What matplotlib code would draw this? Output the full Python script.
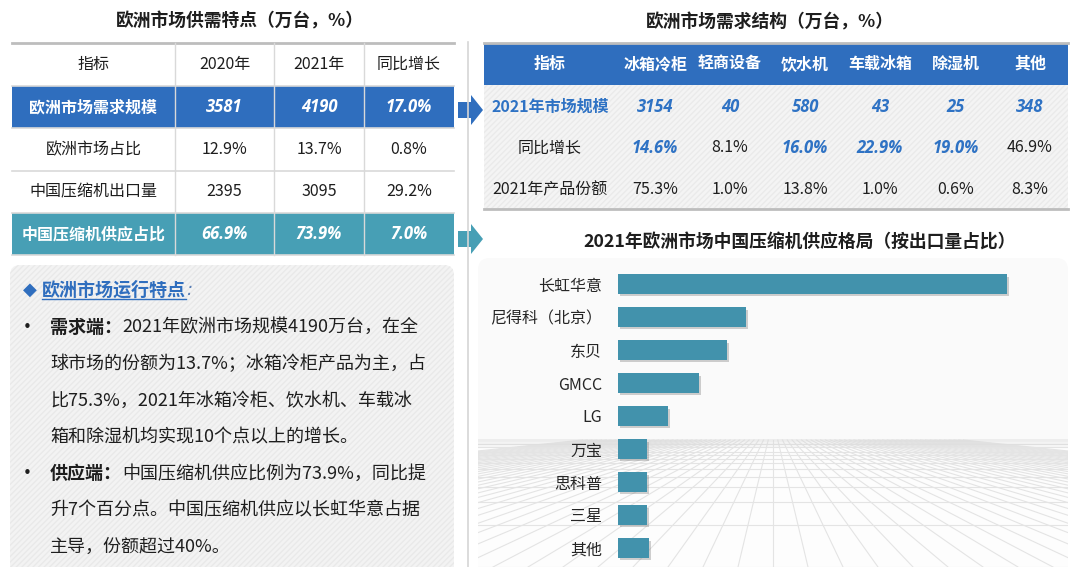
import matplotlib
matplotlib.use('Agg')
import matplotlib.pyplot as plt
from matplotlib.patches import Rectangle, FancyBboxPatch, Polygon
import matplotlib.patheffects as pe
import numpy as np

plt.rcParams['font.family'] = ['Noto Sans CJK SC', 'DejaVu Sans']

# ---------------- data ----------------
left_title = '欧洲市场供需特点（万台，%）'
left_header = ['指标', '2020年', '2021年', '同比增长']
left_metrics = ['欧洲市场需求规模', '欧洲市场占比', '中国压缩机出口量', '中国压缩机供应占比']
left_2020 = ['3581', '12.9%', '2395', '66.9%']
left_2021 = ['4190', '13.7%', '3095', '73.9%']
left_yoy = ['17.0%', '0.8%', '29.2%', '7.0%']

right_title = '欧洲市场需求结构（万台，%）'
right_header = ['指标', '冰箱冷柜', '轻商设备', '饮水机', '车载冰箱', '除湿机', '其他']
right_metrics = ['2021年市场规模', '同比增长', '2021年产品份额']
market_2021 = [3154, 40, 580, 43, 25, 348]
growth_yoy = [14.6, 8.1, 16.0, 22.9, 19.0, 46.9]
share_2021 = [75.3, 1.0, 13.8, 1.0, 0.6, 8.3]
growth_highlight = [True, False, True, True, True, False]

bar_title = '2021年欧洲市场中国压缩机供应格局（按出口量占比）'
suppliers = ['长虹华意', '尼得科（北京）', '东贝', 'GMCC', 'LG', '万宝', '思科普', '三星', '其他']
supply_share = [44.5, 14.6, 12.5, 9.3, 5.7, 3.3, 3.3, 3.3, 3.5]

note_title = '欧洲市场运行特点'
note_lines = [
    ('需求端：', '2021年欧洲市场规模4190万台，在全'),
    ('', '球市场的份额为13.7%；冰箱冷柜产品为主，占'),
    ('', '比75.3%，2021年冰箱冷柜、饮水机、车载冰'),
    ('', '箱和除湿机均实现10个点以上的增长。'),
    ('供应端：', '中国压缩机供应比例为73.9%，同比提'),
    ('', '升7个百分点。中国压缩机供应以长虹华意占据'),
    ('', '主导，份额超过40%。'),
]

# ---------------- style ----------------
BLUE = '#2F6EBE'
TEAL = '#479FB5'
BAR = '#4292AC'
BLUE_TXT = '#2E72C4'
TXT = '#1E1E1E'
LINE = '#D9D9D9'
NUM_IT = ['Open Sans', 'DejaVu Sans']
FS = 11.5
FS_NUM = 12

fig = plt.figure(figsize=(10.8, 5.67), dpi=100)
bg = fig.add_axes([0, 0, 1, 1])
bg.set_xlim(0, 1080)
bg.set_ylim(567, 0)
bg.axis('off')

# ---------------- titles ----------------
bg.text(240, 21, left_title, ha='center', va='center', fontsize=12.8, fontweight='bold', color=TXT)
bg.text(770, 22, right_title, ha='center', va='center', fontsize=12.8, fontweight='bold', color=TXT)
bg.text(800, 243, bar_title, ha='center', va='center', fontsize=12.8, fontweight='bold', color=TXT)

# separator
bg.plot([468, 468], [42, 567], color='#D6D6D6', lw=1.2)

# ---------------- left table ----------------
col_edges = [12, 175, 274, 364, 454]
row_edges = [43, 86, 128, 171, 213, 255]
col_c = [(col_edges[i] + col_edges[i + 1]) / 2 for i in range(4)]
row_c = [(row_edges[i] + row_edges[i + 1]) / 2 for i in range(5)]
fills = {1: BLUE, 4: TEAL}
for r, colr in fills.items():
    bg.add_patch(Rectangle((col_edges[0], row_edges[r]), col_edges[-1] - col_edges[0],
                           row_edges[r + 1] - row_edges[r], facecolor=colr, edgecolor='none'))
for y in row_edges[1:]:
    bg.plot([col_edges[0], col_edges[-1]], [y, y], color=LINE, lw=1.2)
bg.plot([col_edges[0], col_edges[-1]], [43, 43], color='#BDBDBD', lw=2)
for x in col_edges[1:-1]:
    bg.plot([x, x], [43, 255], color=LINE, lw=1)

for j, h in enumerate(left_header):
    bg.text(col_c[j], row_c[0], h, ha='center', va='center', fontsize=FS, color=TXT)
for i, m in enumerate(left_metrics):
    r = i + 1
    vals = [left_2020[i], left_2021[i], left_yoy[i]]
    if r in fills:
        bg.text(col_c[0], row_c[r], m, ha='center', va='center', fontsize=FS,
                fontweight='bold', color='white')
        for j, v in enumerate(vals):
            bg.text(col_c[j + 1], row_c[r], v, ha='center', va='center', fontsize=FS_NUM,
                    fontweight='bold', style='italic', family=NUM_IT, color='white')
    else:
        bg.text(col_c[0], row_c[r], m, ha='center', va='center', fontsize=FS, color=TXT)
        for j, v in enumerate(vals):
            bg.text(col_c[j + 1], row_c[r], v, ha='center', va='center', fontsize=FS, color=TXT)

# arrows
def arrow(yc, colr):
    pts = [(458, yc - 8), (471, yc - 8), (471, yc - 15), (483, yc), (471, yc + 15),
           (471, yc + 8), (458, yc + 8)]
    bg.add_patch(Polygon(pts, closed=True, facecolor=colr, edgecolor='none'))
arrow(110, BLUE)
arrow(239, TEAL)

# ---------------- right table ----------------
rx0, rx1 = 484, 1068
bg.add_patch(Rectangle((rx0, 85), rx1 - rx0, 124, facecolor='#F4F4F4', edgecolor='none'))
bg.add_patch(Rectangle((rx0, 85), rx1 - rx0, 124, facecolor='none', edgecolor='#EAEAEA',
                       hatch='//////', linewidth=0))
bg.add_patch(Rectangle((rx0, 44), rx1 - rx0, 41, facecolor=BLUE, edgecolor='none'))
bg.plot([rx0, rx1], [43, 43], color='#BDBDBD', lw=2)
bg.plot([rx0, rx1], [209, 209], color='#BDBDBD', lw=2)
rc = [550, 655, 730, 805, 880, 956, 1030]
rr = [64, 107, 148, 190]
for j, h in enumerate(right_header):
    bg.text(rc[j], rr[0], h, ha='center', va='center', fontsize=FS, fontweight='bold', color='white')
bg.text(rc[0], rr[1], right_metrics[0], ha='center', va='center', fontsize=FS,
        fontweight='bold', color=BLUE_TXT)
for j, v in enumerate(market_2021):
    bg.text(rc[j + 1], rr[1], f'{v}', ha='center', va='center', fontsize=FS_NUM, fontweight='bold',
            style='italic', family=NUM_IT, color=BLUE_TXT)
bg.text(rc[0], rr[2], right_metrics[1], ha='center', va='center', fontsize=FS, color=TXT)
for j, v in enumerate(growth_yoy):
    if growth_highlight[j]:
        bg.text(rc[j + 1], rr[2], f'{v:.1f}%', ha='center', va='center', fontsize=FS_NUM,
                fontweight='bold', style='italic', family=NUM_IT, color=BLUE_TXT)
    else:
        bg.text(rc[j + 1], rr[2], f'{v:.1f}%', ha='center', va='center', fontsize=FS, color=TXT)
bg.text(rc[0], rr[3], right_metrics[2], ha='center', va='center', fontsize=FS, color=TXT)
for j, v in enumerate(share_2021):
    bg.text(rc[j + 1], rr[3], f'{v:.1f}%', ha='center', va='center', fontsize=FS, color=TXT)

# ---------------- bar panel background ----------------
panel = FancyBboxPatch((478, 258), 590, 330, boxstyle='round,pad=0,rounding_size=12',
                       facecolor='#FAFAFA', edgecolor='none')
bg.add_patch(panel)
lower = Rectangle((478, 440), 590, 130, facecolor='#FDFDFD', edgecolor='none')
bg.add_patch(lower)
lower.set_clip_path(panel)
vpx, vpy, hz = 773, 420, 440
for xb in np.arange(vpx - 35 * 40, vpx + 35 * 41, 35):
    xh = vpx + (xb - vpx) * (hz - vpy) / (567 - vpy)
    ln, = bg.plot([xh, xb], [hz, 567], color='#E4E4E4', lw=0.8)
    ln.set_clip_path(panel)
prev = None
for k in range(0, 80):
    y = vpy + (567 - vpy) / (1 + 0.4 * k)
    if y < hz + 1:
        break
    if prev is not None and prev - y < 3:
        continue
    prev = y
    ln, = bg.plot([478, 1068], [y, y], color='#E4E4E4', lw=0.8)
    ln.set_clip_path(panel)
for d, a in [(0, 0.45), (2.5, 0.3), (5, 0.18)]:
    ln, = bg.plot([478, 1068], [hz + d, hz + d], color='#DADADA', lw=2, alpha=a)
    ln.set_clip_path(panel)

# ---------------- bar chart ----------------
ax = fig.add_axes([618 / 1080, (567 - 564.5) / 567, 437 / 1080, 297 / 567])
ax.patch.set_alpha(0)
ypos = np.arange(len(suppliers))
bars = ax.barh(ypos, supply_share, height=0.58, color=BAR)
for b in bars:
    b.set_path_effects([pe.SimplePatchShadow(offset=(1.5, -1.5), shadow_rgbFace='#777777', alpha=0.35),
                        pe.Normal()])
ax.set_xlim(0, 50)
ax.set_ylim(len(suppliers) - 0.5, -0.5)
ax.set_yticks(ypos)
ax.set_yticklabels(suppliers, fontsize=11.5, color='#262626')
ax.tick_params(axis='y', length=0, pad=11.5)
ax.set_xticks([])
for s in ax.spines.values():
    s.set_visible(False)

# ---------------- note box ----------------
box = FancyBboxPatch((10, 265), 444, 320, boxstyle='round,pad=0,rounding_size=10',
                     facecolor='#F3F3F3', edgecolor='none')
bg.add_patch(box)
hb = Rectangle((10, 265), 444, 320, facecolor='none', edgecolor='#E9E9E9', hatch='//////', linewidth=0)
bg.add_patch(hb)
hb.set_clip_path(box)

bg.text(23, 290, '◆', ha='left', va='center', fontsize=13, color=BLUE, family=['DejaVu Sans'])
t_head = bg.text(42, 290, note_title, ha='left', va='center', fontsize=13, fontweight='bold', color=BLUE)
bg.annotate(':', xy=(1, 0.5), xycoords=t_head, ha='left', va='center', fontsize=13,
            color='#5B7FB5', style='italic', family=['DejaVu Sans'])

y0, dy = 327, 36.7
for i, (lead, rest) in enumerate(note_lines):
    y = y0 + i * dy
    if lead:
        bg.text(27, y, '•', ha='center', va='center', fontsize=11, color=TXT, family=['DejaVu Sans'])
        tl = bg.text(50, y, lead, ha='left', va='center', fontsize=13, fontweight='bold', color=TXT)
        bg.annotate(rest, xy=(1, 0.5), xycoords=tl, ha='left', va='center', fontsize=13, color=TXT)
    else:
        bg.text(50, y, rest, ha='left', va='center', fontsize=13, color=TXT)

# underline for header
fig.canvas.draw()
bb = t_head.get_window_extent().transformed(bg.transData.inverted())
bg.plot([bb.x0, bb.x1], [max(bb.y0, bb.y1) - 1, max(bb.y0, bb.y1) - 1], color=BLUE, lw=1)

fig.savefig('out.png', dpi=100)
